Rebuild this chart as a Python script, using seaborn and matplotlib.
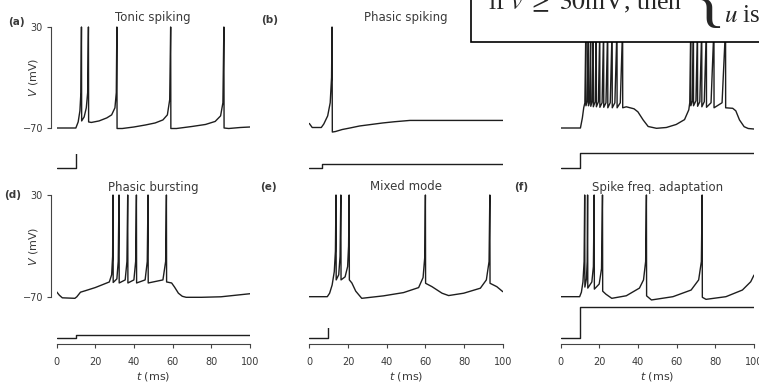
import matplotlib
matplotlib.use('Agg')
import pandas as pd
import seaborn as sns
import matplotlib.pyplot as plt
from matplotlib.patches import Rectangle

# Membrane potential traces (t in ms, V in mV)
t_a = [0, 10, 11.2, 12.1, 12.6, 12.9, 13.0, 14.3, 15.4, 16.1, 16.5, 16.6, 18, 22, 26, 28.5,
       30.2, 30.9, 31.2, 31.3, 34, 40, 46, 51, 55, 57.3, 58.5, 59.0, 59.1, 62, 70,
       77, 82, 84.8, 86.0, 86.5, 86.6, 89, 95, 100]
v_a = [-70, -70, -64, -53, -35, 30, -63, -59, -50, -35, 30, -64, -64.5, -63, -60, -57,
       -50, -35, 30, -70.5, -70.5, -69, -67, -65, -62, -57, -42, 30, -70.5, -70.5, -68.5,
       -66.5, -63.5, -58, -45, 30, -70, -70.5, -69.5, -69]

t_b = [0, 1.5, 6.2, 7.5, 9.5, 10.8, 11.5, 11.75, 11.9, 13.5, 17, 21, 26, 32, 38, 44, 52, 100]
v_b = [-65.5, -69.5, -69.5, -66, -58, -45, -20, 30, -74, -73.5, -71.5, -70, -68, -66.5,
       -65, -63.8, -62.5, -62.5]

t_c = [0, 10.3, 11.3, 12.0, 12.6, 13.1, 13.15, 13.9, 14.4, 14.45, 15.1, 15.6, 15.65, 16.4,
       16.9, 16.95, 17.9, 18.5, 18.55, 19.6, 20.3, 20.35, 21.5, 22.3, 22.35, 23.5, 24.4,
       24.45, 25.7, 26.7, 26.75, 28.1, 29.2, 29.25, 30.9, 32.1, 32.15, 34, 38, 40, 42.7,
       45.3, 49.6, 54.7, 59.8, 64.1, 66.3, 66.8, 67.3, 67.35, 68.2, 68.7, 68.75, 70.0,
       70.8, 70.85, 72.0, 73.0, 73.05, 74.3, 75.4, 75.45, 77.8, 79.3, 79.35, 83.5, 85.3,
       85.35, 89, 90.6, 92.5, 94.9, 97, 100]
v_c = [-70, -70, -60, -50, -45, 30, -48, -43, 30, -48, -43, 30, -48.5, -43,
       30, -49, -44, 30, -49, -44, 30, -49.5, -45, 30, -49.5, -45, 30,
       -50, -45, 30, -50, -45, 30, -50, -45, 30, -50, -49, -51, -54, -62,
       -68.5, -70.3, -69.5, -66.5, -61.7, -52, -45, 30, -48, -43, 30, -48, -43,
       30, -48.5, -44, 30, -49, -44, 30, -49.5, -45, 30, -50, -45, 30,
       -50, -50.5, -53, -62, -68.7, -70.5, -71]

t_d = [0, 1.5, 3, 9.5, 10.5, 12.4, 15, 20, 24, 27.3, 28.5, 29.0, 29.2, 29.3, 31.2, 31.9,
       32.3, 32.4, 35.5, 36.4, 36.8, 36.9, 40.0, 40.9, 41.3, 41.4, 45.8, 46.9, 47.3, 47.4,
       55.0, 56.4, 56.8, 56.9, 59.5, 61, 63, 65, 67, 75, 85, 100]
v_d = [-64.5, -68, -70.5, -71, -69.5, -65, -63.5, -60.5, -57.5, -55, -48, -30, 30, -55.5,
       -52, -35, 30, -56, -53, -35, 30, -56, -53, -35, 30, -56, -53, -35, 30, -56,
       -53, -35, 30, -55, -56, -60, -66, -69, -70, -70, -69.5, -66.5]

t_e = [0, 9.3, 10.5, 11.8, 12.9, 13.5, 13.8, 13.9, 15.2, 15.9, 16.3, 16.4, 18.5, 19.8, 20.3,
       20.6, 20.7, 22, 24, 27.1, 38.3, 48.7, 56.5, 58.8, 59.7, 60.0, 60.1, 63.4, 68.6, 72,
       79.8, 88.4, 91.5, 92.9, 93.3, 93.4, 96.9, 100]
v_e = [-69.4, -69.4, -66, -58, -45, -25, 30, -53, -48, -30, 30, -53, -50, -40, -20,
       30, -53, -56, -64, -71, -68.6, -65.4, -60.5, -50.7, -30, 30, -56.3, -59.6, -66, -68.3,
       -66, -61.1, -53, -35, 30, -56.3, -59.6, -64.5]

t_f = [0, 9.9, 10.8, 11.6, 12.2, 12.5, 12.6, 13.4, 13.8, 14.0, 14.1, 16.2, 17.0, 17.4, 17.5,
       20.0, 21.2, 21.7, 21.8, 23.5, 26.5, 34, 40.8, 42.9, 44.0, 44.4, 44.5, 47, 58.1, 67.5,
       71.4, 72.8, 73.2, 73.3, 75.2, 85.5, 94, 98.3, 100]
v_f = [-69.4, -69.4, -65, -55, -35, 30, -60, -52, -35, 30, -61, -55, -40, 30, -62,
       -57, -42, 30, -64, -67, -71, -68.5, -61, -53, -35, 30, -68.6, -72.6, -69.4, -62.9,
       -53, -35, 30, -70, -72, -69.4, -62.9, -54.8, -48.3]

# panel (c) label and title sit under the equation box in the reference
panel_ids = ['(a)', '(b)', None, '(d)', '(e)', '(f)']
panel_titles = ['Tonic spiking', 'Phasic spiking', None,
                'Phasic bursting', 'Mixed mode', 'Spike freq. adaptation']
# step current under each trace: onset (ms) and amplitude (arbitrary units)
cur_onset = [10.3, 6.5, 10.2, 10.2, 9.5, 9.9]
cur_amp = [1.5, 0.27, 0.98, 0.12, 1.5, 1.03]
t_ticks = [0, 20, 40, 60, 80, 100]

traces = [(t_a, v_a), (t_b, v_b), (t_c, v_c), (t_d, v_d), (t_e, v_e), (t_f, v_f)]

sns.set_theme(style='white')
plt.rcParams['font.family'] = ['DejaVu Sans']
plt.rcParams['mathtext.fontset'] = 'dejavusans'

TRACE = '#1e1e1e'
TEXT = '#3a3a3a'
W, H = 759, 383

fig = plt.figure(figsize=(W / 100, H / 100), dpi=100)


def rect(left, top, right, bottom):
    # pixel box -> figure fraction
    return [left / W, 1 - bottom / H, (right - left) / W, (bottom - top) / H]


col_left = [56.5, 309.3, 560.5]
col_w = 193.5
v_rows = [(27.0, 1.01), (195.0, 1.023)]          # pixel row of V=30, px per mV
cur_rows = [(170.0, 168.3, 16.0), (344.3, 338.3, 30.0)]  # bottom, baseline, px per unit
cur_top = [154, 151.5, 151.5, 305, 328.3, 305]
title_y = [18, 187]
label_xy = [(16, 22), (270, 20), (522, 20), (13, 195), (268, 187), (521, 187)]
ylabel_y = [77.5, 246.7]

for i, (t, v) in enumerate(traces):
    row, col = divmod(i, 3)
    left = col_left[col]
    v30, s = v_rows[row]
    ax = fig.add_axes(rect(left, v30 - 2 * s, left + col_w, v30 + 108 * s))
    sns.lineplot(x=t, y=v, sort=False, estimator=None, ax=ax, color=TRACE, lw=1.0)
    ax.set_xlim(0, 100)
    ax.set_ylim(-78, 32)
    ax.set_xlabel('')
    ax.set_ylabel('')
    ax.set_xticks([])
    ax.patch.set_alpha(0)
    for sp in ax.spines.values():
        sp.set_visible(False)
    if col == 0:
        ax.spines['left'].set_visible(True)
        ax.spines['left'].set_bounds(-70, 30)
        ax.spines['left'].set_position(('outward', 4.2))
        ax.spines['left'].set_color('#444444')
        ax.spines['left'].set_linewidth(0.8)
        ax.set_yticks([-70, 30])
        ax.tick_params(axis='y', left=True, direction='out', length=2.9, width=0.8,
                       pad=2.6, labelsize=7, colors='#444444', labelcolor=TEXT)
        ax.set_ylabel('$V$ (mV)', fontsize=8, color=TEXT)
        ax.yaxis.set_label_coords(39.5 / W, 1 - ylabel_y[row] / H, transform=fig.transFigure)
    else:
        ax.set_yticks([])

    # step current
    bot, base, unit = cur_rows[row]
    cax = fig.add_axes(rect(left, cur_top[i], left + col_w, bot))
    ct = [0, cur_onset[i], cur_onset[i], 100]
    ci = [0, 0, cur_amp[i], cur_amp[i]]
    sns.lineplot(x=ct, y=ci, sort=False, estimator=None, ax=cax, color=TRACE, lw=1.0)
    cax.set_xlim(0, 100)
    cax.set_ylim((base - bot) / unit, (base - cur_top[i]) / unit)
    cax.set_yticks([])
    cax.set_ylabel('')
    cax.patch.set_alpha(0)
    for sp in cax.spines.values():
        sp.set_visible(False)
    if row == 1:
        cax.spines['bottom'].set_visible(True)
        cax.spines['bottom'].set_bounds(0, 100)
        cax.spines['bottom'].set_color('#444444')
        cax.spines['bottom'].set_linewidth(0.8)
        cax.set_xticks(t_ticks)
        cax.tick_params(axis='x', bottom=True, direction='out', length=2.9, width=0.8,
                        pad=6.5, labelsize=7, colors='#444444', labelcolor=TEXT)
        cax.set_xlabel('$t$ (ms)', fontsize=8, color=TEXT)
        cax.xaxis.set_label_coords((left + col_w / 2) / W, 1 - 370 / H,
                                   transform=fig.transFigure)
    else:
        cax.set_xticks([])
        cax.set_xlabel('')

    if panel_titles[i]:
        fig.text((left + col_w / 2) / W, 1 - title_y[row] / H, panel_titles[i],
                 ha='center', va='center', fontsize=8.5, color=TEXT)
    if panel_ids[i]:
        lx, ly = label_xy[i]
        fig.text(lx / W, 1 - ly / H, panel_ids[i], ha='center', va='center',
                 fontsize=7.5, fontweight='bold', color=TEXT)

# equation box overlapping the top right corner
box = Rectangle((471 / W, 1 - 42.3 / H), 400 / W, 80 / H, transform=fig.transFigure,
                facecolor='white', edgecolor='black', lw=1.2, zorder=10, clip_on=False)
fig.add_artist(box)
fig.text(488 / W, 1 - 9.5 / H, r'if $v\ \geq\ 30$mV, then', family='Liberation Serif',
         math_fontfamily='stix', fontsize=18.5, ha='left', va='baseline', zorder=11)
fig.text(709 / W, 1 - 2 / H, '{', family='Liberation Serif', fontsize=50,
         ha='center', va='center', zorder=11)
fig.text(724 / W, 1 - 22.5 / H, r'$u$ is', family='Liberation Serif',
         math_fontfamily='stix', fontsize=18, ha='left', va='baseline', zorder=11)

fig.savefig('out.png', dpi=100)
